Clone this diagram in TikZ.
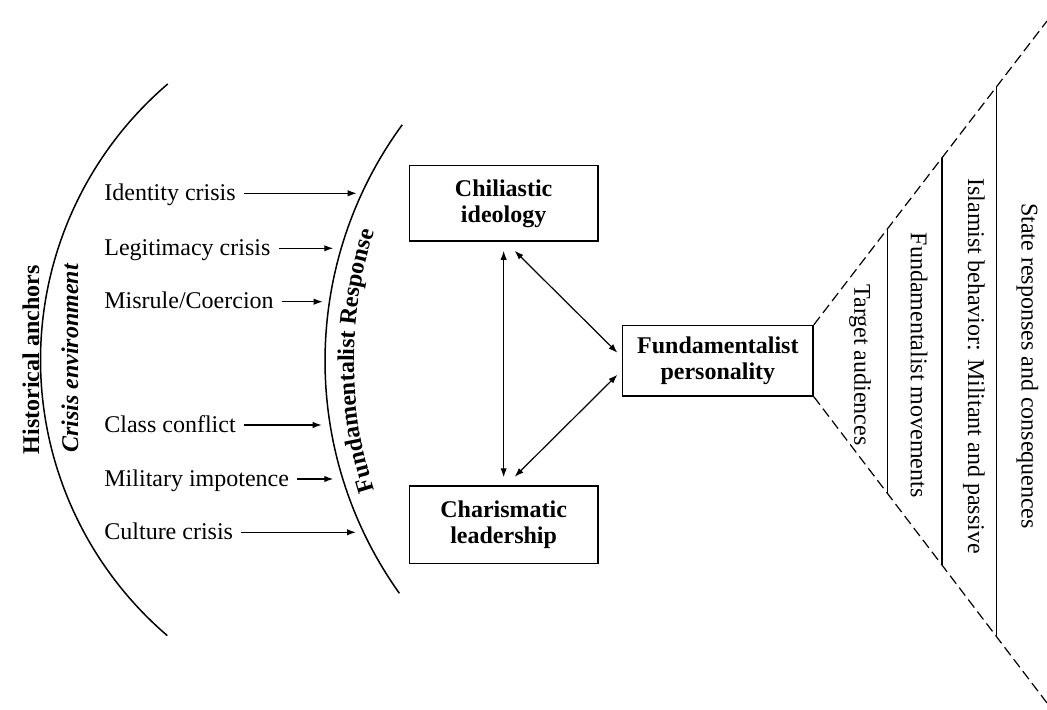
\documentclass[tikz,border=0pt]{standalone}
\usepackage{fontspec}
\setmainfont{Liberation Serif}
\usetikzlibrary{arrows.meta,decorations.text,calc}
\newcommand\dsz{\fontsize{12}{13}\selectfont}
\begin{document}
\begin{tikzpicture}[x=0.5pt,y=-0.5pt,
  font=\dsz,
  curve/.style={line width=0.75pt},
  boxnode/.style={draw, line width=0.75pt, font=\dsz\bfseries, align=center, inner sep=0pt, minimum width=94.4pt},
  lab/.style={anchor=west, inner sep=0pt, text height=8pt, text depth=1pt},
  arr/.style={line width=0.6pt, -{Latex[length=4.5pt,width=3.2pt]}},
  dbl/.style={line width=0.6pt, {Latex[length=4.5pt,width=3.2pt]}-{Latex[length=4.5pt,width=3.2pt]}},
  dsh/.style={line width=0.6pt, dash pattern=on 5pt off 2.5pt},
  lvl/.style={line width=0.7pt},
  ftxt/.style={rotate=-90, inner sep=0pt}
]
\useasboundingbox (0,0) rectangle (1047,710);

% arcs
\draw[curve] ([shift={(403.5,360)}]229.5:363) arc[start angle=229.5, end angle=130.6, radius=363];
\draw[curve] ([shift={(725,361)}]216.2:400) arc[start angle=216.2, end angle=144.5, radius=400];

% arc texts
\node[rotate=90, anchor=base, inner sep=0pt, font=\dsz\bfseries] (ha) at (39,360) {Historical anchors};
\node[rotate=90, anchor=base, inner sep=0pt, font=\dsz\bfseries\itshape] (ce) at (78,358.5) {Crisis environment};
\path[decorate, decoration={text along path, text align=center, text={|\dsz\bfseries|Fundamentalist Response}}]
  ([shift={(776,361)}]154.6:422) arc[start angle=154.6, end angle=205.4, radius=422];

% crisis labels
\node[lab] (l1) at (104,193.3) {Identity crisis};
\node[lab] (l2) at (104,248.3) {Legitimacy crisis};
\node[lab] (l3) at (104,301.7) {Misrule/Coercion};
\node[lab] (l4) at (104,425) {Class conflict};
\node[lab] (l5) at (104,479) {Military impotence};
\node[lab] (l6) at (104,532.3) {Culture crisis};
\coordinate (e1) at (356.7,193.3);
\coordinate (e2) at (333.3,248.3);
\coordinate (e3) at (322.7,301.7);
\coordinate (e4) at (321.7,425);
\coordinate (e5) at (333.3,479);
\coordinate (e6) at (356,532.3);
\foreach \i in {1,...,6}{\draw[arr] ([xshift=4pt]l\i.east) -- (e\i);}

% boxes
\node[boxnode, minimum height=37.7pt] (chil) at (503.65,203.35) {Chiliastic\\ideology};
\node[boxnode, minimum height=38.6pt] (char) at (503.65,524.65) {Charismatic\\leadership};
\node[boxnode, minimum width=95.2pt, minimum height=35.2pt] (fund) at (717.85,360.75) {Fundamentalist\\personality};

\draw[dbl] ($(chil.south)+(0,9)$) -- ($(char.north)+(0,-8)$);
\draw[dbl] ($(chil.south)+(11,9)$) -- ($(fund.west)+(-4.5,-8)$);
\draw[dbl] ($(char.north)+(11,-8.5)$) -- ($(fund.west)+(-4.5,14)$);

% funnel
\coordinate (ft) at (1047,21);
\coordinate (fb) at (1047,703);
\draw[dsh] (fund.north east) -- (ft);
\draw[dsh] (fund.south east) -- (fb);
\foreach \t in {0.315,0.549,0.784}{
  \draw[lvl] ($(fund.north east)!\t!(ft)$) -- ($(fund.south east)!\t!(fb)$);
}
\node[ftxt] (t1) at (860,365) {Target audiences};
\node[ftxt] (t2) at (919,365) {Fundamentalist movements};
\node[ftxt] (t3) at (974,366) {Islamist behavior: Militant and passive};
\node[ftxt] (t4) at (1027.5,366) {State responses and consequences};
\end{tikzpicture}
\end{document}
